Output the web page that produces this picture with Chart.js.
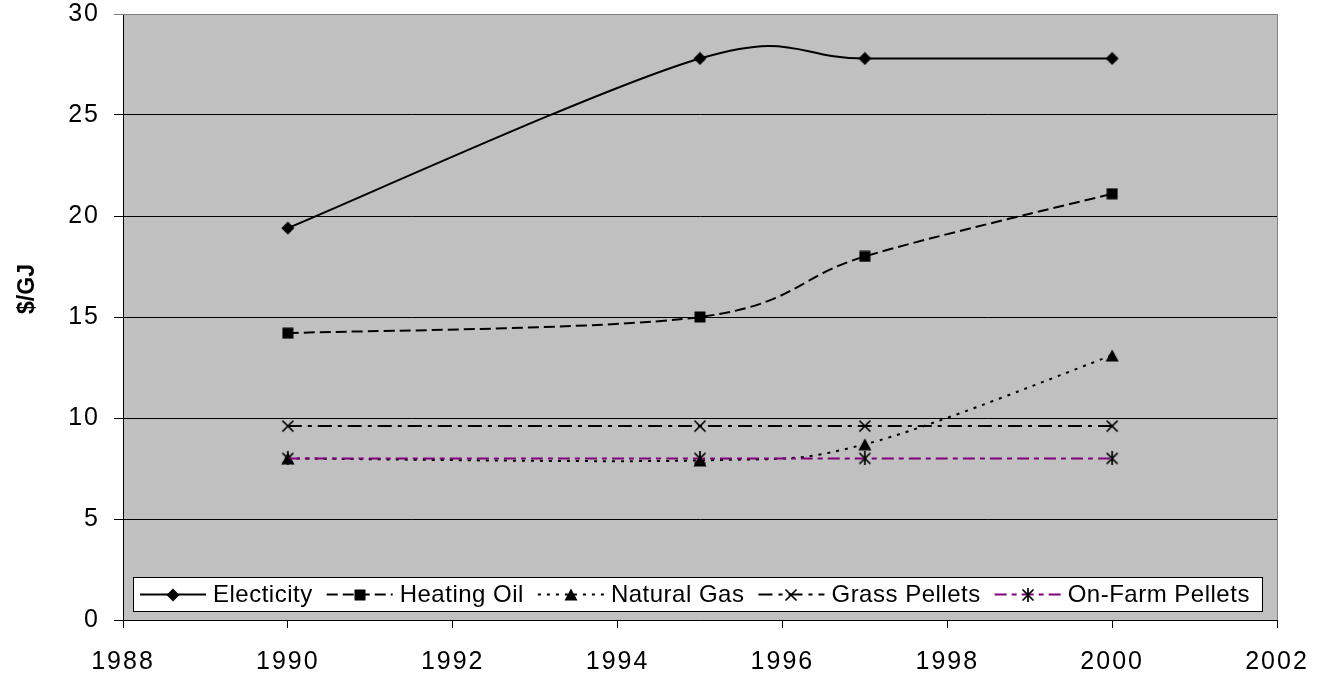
<!DOCTYPE html>
<html>
<head>
<meta charset="utf-8">
<title>Heating fuel prices</title>
<script src="https://cdn.jsdelivr.net/npm/chart.js@4.4.1/dist/chart.umd.min.js"></script>
<style>
  html, body { margin: 0; padding: 0; background: #ffffff; }
  canvas { display: block; }
</style>
</head>
<body>
<canvas id="c" width="1319" height="679"></canvas>
<script>
// Fuel prices, $/GJ
const years = [1990, 1995, 1997, 2000];
const seriesNames = ['Electicity', 'Heating Oil', 'Natural Gas', 'Grass Pellets', 'On-Farm Pellets'];
const electricity = [19.4, 27.8, 27.8, 27.8];
const heatingOil = [14.2, 15.0, 18.0, 21.1];
const naturalGas = [8.0, 7.9, 8.7, 13.1];
const grassPellets = [9.6, 9.6, 9.6, 9.6];
const onFarmPellets = [8.0, 8.0, 8.0, 8.0];
const xTicks = [1988, 1990, 1992, 1994, 1996, 1998, 2000, 2002];
const yTicks = [0, 5, 10, 15, 20, 25, 30];
const yTitle = '$/GJ';

const FONT = '"Liberation Sans", Arial, Helvetica, sans-serif';

// Marker glyphs drawn once on small canvases
function marker(w, h, paint) {
  const c = document.createElement('canvas');
  c.width = w; c.height = h;
  const g = c.getContext('2d');
  g.fillStyle = '#000'; g.strokeStyle = '#000';
  paint(g);
  return c;
}
const diamond = marker(14, 14, g => {
  g.beginPath(); g.moveTo(7, 0.5); g.lineTo(13.5, 7); g.lineTo(7, 13.5); g.lineTo(0.5, 7); g.closePath(); g.fill();
});
const square = marker(12, 12, g => { g.fillRect(0.5, 0.5, 11, 11); });
const triangle = marker(14, 13, g => {
  g.beginPath(); g.moveTo(7, 0.5); g.lineTo(13.5, 12.5); g.lineTo(0.5, 12.5); g.closePath(); g.fill();
});
const cross = marker(14, 14, g => {
  g.lineWidth = 1.7; g.beginPath();
  g.moveTo(1.5, 1.5); g.lineTo(12.5, 12.5); g.moveTo(12.5, 1.5); g.lineTo(1.5, 12.5); g.stroke();
});
const asterisk = marker(14, 14, g => {
  g.lineWidth = 1.7; g.beginPath();
  g.moveTo(1.5, 1.5); g.lineTo(12.5, 12.5); g.moveTo(12.5, 1.5); g.lineTo(1.5, 12.5);
  g.moveTo(7, 0); g.lineTo(7, 14); g.stroke();
});

function pts(values) { return years.map((x, i) => ({ x: x, y: values[i] })); }

function series(idx, values, color, dash, glyph, order) {
  return {
    label: seriesNames[idx],
    data: pts(values),
    borderColor: color,
    backgroundColor: color,
    borderWidth: 2,
    borderDash: dash,
    pointStyle: glyph,
    pointRadius: 7,
    tension: 0.4,
    fill: false,
    order: order
  };
}

const datasets = [
  series(0, electricity, '#000000', [], diamond, 5),
  series(1, heatingOil, '#000000', [11, 5], square, 4),
  series(2, naturalGas, '#000000', [3, 6], triangle, 3),
  series(3, grassPellets, '#000000', [14, 6, 4, 6], cross, 2),
  series(4, onFarmPellets, '#800080', [12, 5, 5, 5], asterisk, 1)
];

// Smoothed curve: Catmull-Rom style control points (one sixth of the neighbour chord)
const smoothCurves = {
  id: 'smoothCurves',
  beforeDatasetsDraw(chart) {
    chart.getSortedVisibleDatasetMetas().forEach(meta => {
      const line = meta.dataset;
      if (!line) return;
      line.updateControlPoints(chart.chartArea);
      const p = meta.data, n = p.length;
      for (let i = 0; i < n; i++) {
        const a = p[Math.max(i - 1, 0)], b = p[i], c = p[Math.min(i + 1, n - 1)];
        const dx = (c.x - a.x) / 6, dy = (c.y - a.y) / 6;
        b.cp1x = b.x - dx; b.cp1y = b.y - dy;
        b.cp2x = b.x + dx; b.cp2y = b.y + dy;
      }
    });
  }
};

// Grey plot background and right/top frame
const plotFrame = {
  id: 'plotFrame',
  beforeDraw(chart) {
    const { ctx, chartArea: a } = chart;
    ctx.letterSpacing = '2px';
    ctx.save();
    ctx.fillStyle = '#C0C0C0';
    ctx.fillRect(a.left, a.top, a.right - a.left, a.bottom - a.top);
    ctx.restore();
  },
  beforeLayout(chart) { chart.ctx.letterSpacing = '2px'; },
  beforeDatasetsDraw(chart) {
    const { ctx, chartArea: a } = chart;
    ctx.save();
    ctx.strokeStyle = '#808080';
    ctx.lineWidth = 1;
    ctx.beginPath();
    ctx.moveTo(a.left, a.top + 0.5); ctx.lineTo(a.right + 0.5, a.top + 0.5);
    ctx.lineTo(a.right + 0.5, a.bottom);
    ctx.stroke();
    ctx.restore();
  }
};

// Vertical axis title
const axisTitle = {
  id: 'axisTitle',
  afterDraw(chart) {
    const ctx = chart.ctx;
    ctx.save();
    ctx.letterSpacing = '0px';
    ctx.translate(28, 289);
    ctx.rotate(-Math.PI / 2);
    ctx.font = 'bold 23px ' + FONT;
    ctx.fillStyle = '#000';
    ctx.textAlign = 'center';
    ctx.textBaseline = 'middle';
    ctx.fillText(yTitle, 0, 0);
    ctx.restore();
  }
};

// Boxed legend inside the bottom of the plot
const innerLegend = {
  id: 'innerLegend',
  afterDraw(chart) {
    const { ctx, chartArea: a } = chart;
    ctx.save();
    ctx.letterSpacing = '0.5px';
    ctx.font = '24px ' + FONT;
    const sample = 66, gapText = 7, gapItem = 14, padL = 7, padR = 12;
    const widths = chart.data.datasets.map(d => ctx.measureText(d.label).width);
    let total = padL + padR;
    widths.forEach((w, i) => { total += sample + gapText + w + (i < widths.length - 1 ? gapItem : 0); });
    const h = 34;
    const left = a.left + 10, bottom = a.bottom - 9, top = bottom - h;
    ctx.fillStyle = '#ffffff';
    ctx.fillRect(left, top, total, h);
    ctx.strokeStyle = '#000';
    ctx.lineWidth = 1;
    ctx.strokeRect(Math.round(left) + 0.5, Math.round(top) + 0.5, Math.round(total), h);
    const cy = top + h / 2 + 0.5;
    let x = left + padL;
    chart.data.datasets.forEach((d, i) => {
      ctx.save();
      ctx.strokeStyle = d.borderColor;
      ctx.lineWidth = d.borderWidth;
      ctx.setLineDash(d.borderDash);
      ctx.beginPath(); ctx.moveTo(x, cy); ctx.lineTo(x + sample, cy); ctx.stroke();
      ctx.restore();
      const g = d.pointStyle;
      ctx.drawImage(g, Math.round(x + sample / 2 - g.width / 2), Math.round(cy - g.height / 2));
      x += sample + gapText;
      ctx.fillStyle = '#000';
      ctx.textAlign = 'left';
      ctx.textBaseline = 'middle';
      ctx.fillText(d.label, x, cy + 1);
      x += widths[i] + gapItem;
    });
    ctx.restore();
  }
};

Chart.defaults.font.family = FONT;

new Chart(document.getElementById('c'), {
  type: 'line',
  data: { datasets: datasets },
  options: {
    responsive: false,
    animation: false,
    events: [],
    layout: { padding: { top: 14, right: 42, left: 0, bottom: 0 } },
    plugins: { legend: { display: false }, tooltip: { enabled: false } },
    scales: {
      x: {
        type: 'linear',
        min: xTicks[0],
        max: xTicks[xTicks.length - 1],
        afterBuildTicks: s => { s.ticks = xTicks.map(v => ({ value: v })); },
        afterFit: s => { s.height = 59; s.paddingLeft = 0; s.paddingRight = 0; },
        grid: { drawOnChartArea: false, drawTicks: true, tickLength: 8, color: '#000', lineWidth: 1 },
        border: { color: '#000', width: 1 },
        ticks: { color: '#000', font: { size: 25 }, padding: 19, maxRotation: 0, autoSkip: false,
                 callback: v => String(v) }
      },
      y: {
        type: 'linear',
        min: yTicks[0],
        max: yTicks[yTicks.length - 1],
        afterBuildTicks: s => { s.ticks = yTicks.map(v => ({ value: v })); },
        afterFit: s => { s.width = 123; s.paddingTop = 0; s.paddingBottom = 0; },
        grid: { color: c => (c.tick && c.tick.value === 30 ? '#808080' : '#000'), lineWidth: 1,
                drawTicks: true, tickLength: 9 },
        border: { color: '#000', width: 1 },
        ticks: { color: '#000', font: { size: 25 }, padding: 14, callback: v => String(v) }
      }
    }
  },
  plugins: [plotFrame, smoothCurves, axisTitle, innerLegend]
});
</script>
</body>
</html>
